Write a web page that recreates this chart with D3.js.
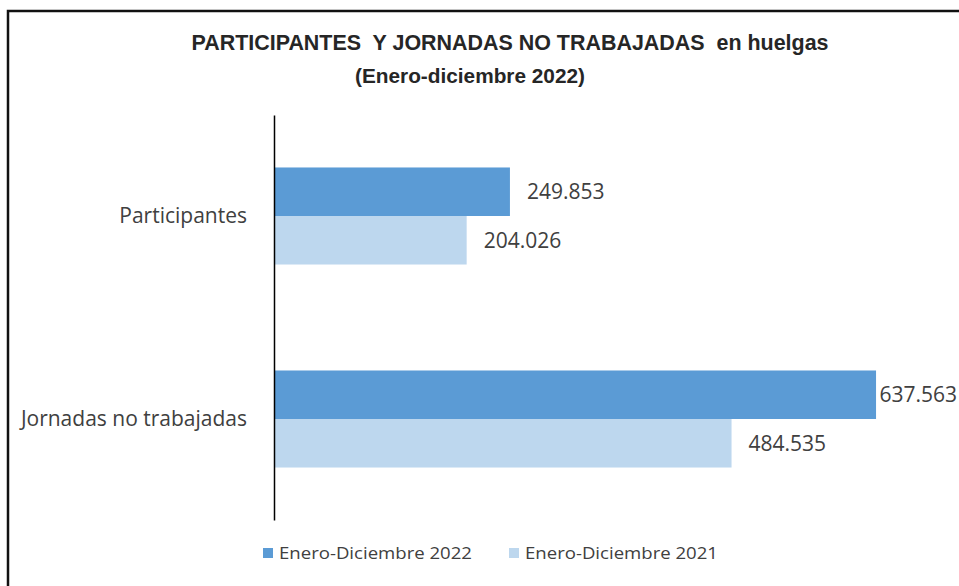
<!DOCTYPE html>
<html><head><meta charset="utf-8">
<script src="https://cdn.jsdelivr.net/npm/d3@7"></script>
<style>body{margin:0;background:#fff}svg{display:block}text{white-space:pre}</style>
</head><body><svg id="c" width="959" height="586"></svg>
<script>
const categories = ["Participantes", "Jornadas no trabajadas"];
const seriesNames = ["Enero-Diciembre 2022", "Enero-Diciembre 2021"];
const values2022 = [249853, 637563];
const values2021 = [204026, 484535];
const colors = ["#5b9bd5", "#bdd7ee"];
const title = "PARTICIPANTES  Y JORNADAS NO TRABAJADAS  en huelgas";
const subtitle = "(Enero-diciembre 2022)";

const svg = d3.select("#c");
const W = 959, H = 586;
const font = "'Open Sans', 'Noto Sans', sans-serif";
const txt = "#404040";

// chart border
svg.append("path").attr("d", `M8,${H+5} L8,11 L${W+5},11`)
  .attr("fill", "none").attr("stroke", "#111").attr("stroke-width", 2.5);

svg.append("text").attr("x", 510).attr("y", 50).attr("text-anchor", "middle")
  .attr("font-family", "'Liberation Sans Narrow','Liberation Sans',sans-serif").attr("font-weight", "bold")
  .attr("font-size", 22).attr("fill", "#262626")
  .attr("textLength", 637).attr("lengthAdjust", "spacingAndGlyphs").text(title);
svg.append("text").attr("x", 470).attr("y", 83).attr("text-anchor", "middle")
  .attr("font-family", "'Liberation Sans Narrow','Liberation Sans',sans-serif").attr("font-weight", "bold")
  .attr("font-size", 20).attr("fill", "#262626")
  .attr("textLength", 230).attr("lengthAdjust", "spacingAndGlyphs").text(subtitle);

const x = d3.scaleLinear().domain([0, 700000]).range([274, 935]);
const y = d3.scaleBand().domain(categories).range([115, 520]).paddingInner(0.522).paddingOuter(0.2585);
const ys = d3.scaleBand().domain(seriesNames).range([0, y.bandwidth()]);

const data = [];
categories.forEach((c, i) => {
  data.push({cat: c, s: seriesNames[0], v: values2022[i], col: colors[0]});
  data.push({cat: c, s: seriesNames[1], v: values2021[i], col: colors[1]});
});

svg.append("g").selectAll("rect").data(data).join("rect")
  .attr("x", x(0)).attr("y", d => y(d.cat) + ys(d.s))
  .attr("width", d => x(d.v) - x(0)).attr("height", ys.bandwidth())
  .attr("fill", d => d.col);

const loc = d3.formatLocale({decimal: ",", thousands: ".", grouping: [3], currency: ["", ""]});
const fmt = loc.format(",");

svg.append("g").selectAll("text").data(data).join("text")
  .attr("font-family", font).attr("font-size", 21).attr("fill", txt)
  .attr("y", d => y(d.cat) + ys(d.s) + ys.bandwidth() / 2)
  .attr("dy", "0.35em")
  .text(d => fmt(d.v))
  .attr("x", function(d) {
    const w = this.getComputedTextLength();
    return Math.min(x(d.v) + 17, W - 2 - w);
  });

// category axis
const axis = d3.axisLeft(y).tickSize(0).tickPadding(27);
const ag = svg.append("g").attr("transform", `translate(${x(0)},0)`).call(axis);
ag.select(".domain").attr("stroke", "#000").attr("stroke-width", 1.5);
ag.selectAll("text").attr("font-family", font).attr("font-size", 21).attr("fill", txt);

// legend
const lg = svg.append("g").attr("font-family", font).attr("font-size", 17).attr("fill", txt);
const lx = [263, 509];
seriesNames.forEach((s, i) => {
  lg.append("rect").attr("x", lx[i]).attr("y", 548).attr("width", 10).attr("height", 10).attr("fill", colors[i]);
  lg.append("text").attr("x", lx[i] + 16).attr("y", 553).attr("dy", "0.35em")
    .attr("textLength", 193).attr("lengthAdjust", "spacingAndGlyphs").text(s);
});
</script></body></html>
